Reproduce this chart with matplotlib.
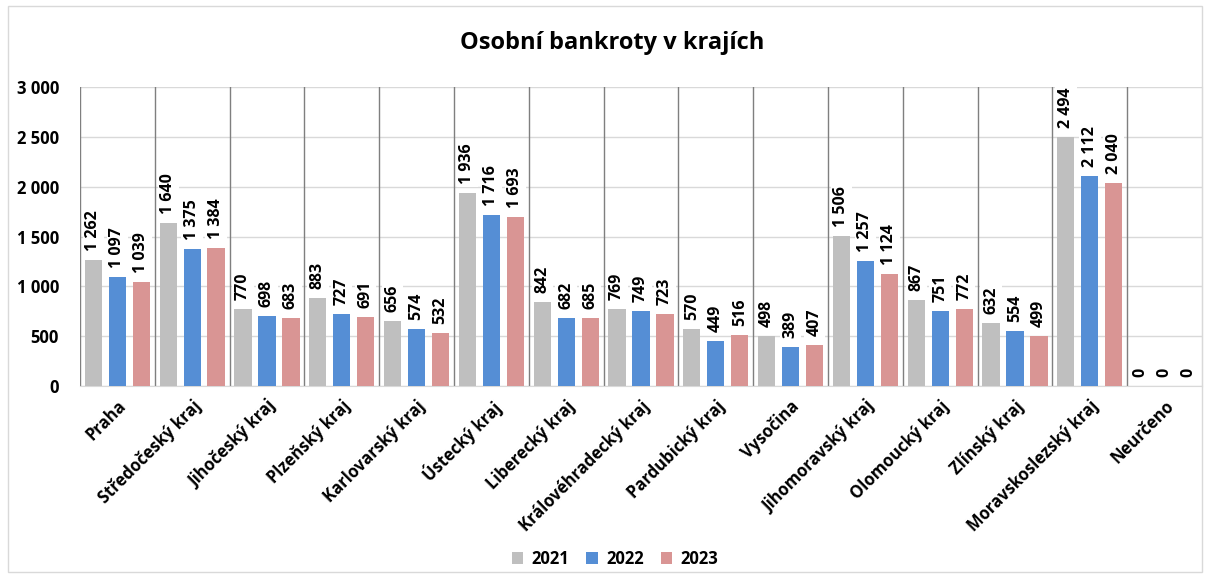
import matplotlib.pyplot as plt
from matplotlib.patches import Rectangle
import numpy as np

plt.rcParams['font.family'] = ['Open Sans', 'DejaVu Sans']

kraje = ['Praha', 'Středočeský kraj', 'Jihočeský kraj', 'Plzeňský kraj',
         'Karlovarský kraj', 'Ústecký kraj', 'Liberecký kraj',
         'Královéhradecký kraj', 'Pardubický kraj', 'Vysočina',
         'Jihomoravský kraj', 'Olomoucký kraj', 'Zlínský kraj',
         'Moravskoslezský kraj', 'Neurčeno']
roky = ['2021', '2022', '2023']
b2021 = [1262, 1640, 770, 883, 656, 1936, 842, 769, 570, 498, 1506, 867, 632, 2494, 0]
b2022 = [1097, 1375, 698, 727, 574, 1716, 682, 749, 449, 389, 1257, 751, 554, 2112, 0]
b2023 = [1039, 1384, 683, 691, 532, 1693, 685, 723, 516, 407, 1124, 772, 499, 2040, 0]
barvy = ['#BFBFBF', '#558ED5', '#D99594']

def fmt(v):
    return f'{v:,}'.replace(',', ' ')

fig = plt.figure(figsize=(12.06, 5.79), dpi=100)
fig.patches.append(Rectangle((0.007, 0.012), 0.99, 0.978, transform=fig.transFigure,
                             fill=False, edgecolor='#D9D9D9', linewidth=1))
ax = fig.add_axes([0.0663, 0.3333, 0.9304, 0.5164])

x = np.arange(len(kraje))
sirka = 0.23
posun = 0.32
for i, (data, barva) in enumerate(zip([b2021, b2022, b2023], barvy)):
    pos = x + (i - 1) * posun
    ax.bar(pos, data, width=sirka, color=barva, label=roky[i], zorder=3)
    for px, v in zip(pos, data):
        ax.text(px, v + 90, fmt(v), rotation=90, ha='center', va='bottom',
                fontsize=11.5, fontweight='bold', zorder=5,
                bbox=dict(facecolor='white', edgecolor='none', pad=2))

# svislé oddělovače mezi kraji
for b in np.arange(-0.5, len(kraje) - 1, 1.0):
    ax.plot([b, b], [0, 3000], color='#7F7F7F', linewidth=1, zorder=2)

ax.set_xlim(-0.5, len(kraje) - 0.5)
ax.set_ylim(0, 3000)
ax.set_yticks(np.arange(0, 3001, 500))
ax.set_yticklabels([fmt(v) for v in range(0, 3001, 500)], fontsize=12, fontweight='bold')
ax.yaxis.grid(True, color='#D9D9D9', linewidth=1, zorder=0)
ax.set_axisbelow(True)
ax.set_xticks(x)
ax.set_xticklabels(kraje, rotation=45, ha='right', rotation_mode='anchor',
                   fontsize=12, fontweight='bold')
ax.tick_params(axis='both', length=0)
ax.tick_params(axis='y', pad=15)
ax.tick_params(axis='x', pad=8)
for s in ['left', 'top']:
    ax.spines[s].set_visible(False)
ax.spines['right'].set_color('#D9D9D9')
ax.spines['bottom'].set_color('#D9D9D9')

fig.text(0.508, 0.926, 'Osobní bankroty v krajích', ha='center', va='center',
         fontsize=17, fontweight='bold')
fig.legend(loc='center', bbox_to_anchor=(0.51, 0.035), ncol=3, frameon=False,
           handlelength=0.7, handleheight=0.7, handletextpad=0.5, columnspacing=1.0,
           prop={'weight': 'bold', 'size': 12})

fig.savefig('out.png', dpi=100)
